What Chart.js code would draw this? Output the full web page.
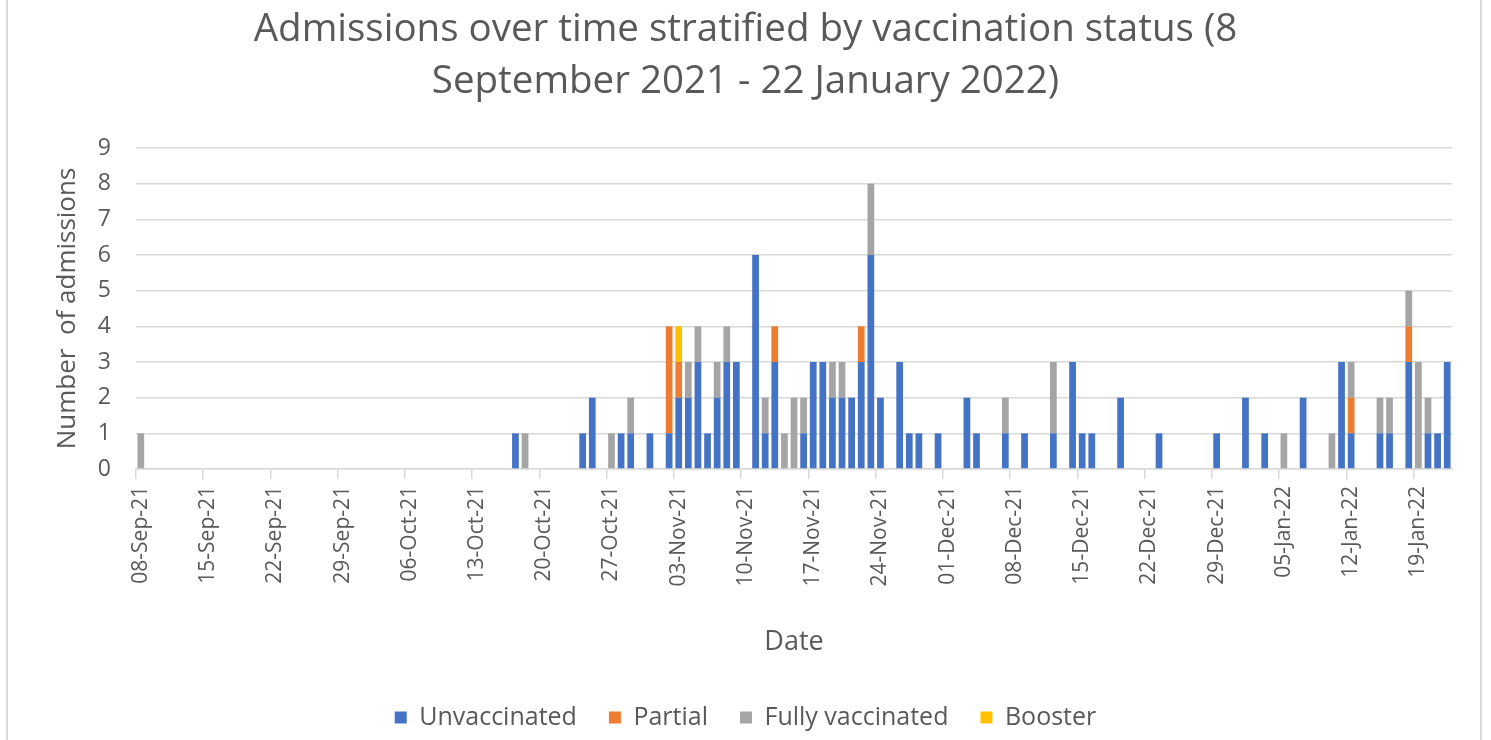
<!DOCTYPE html>
<html>
<head>
<meta charset="utf-8">
<title>Admissions over time stratified by vaccination status</title>
<script src="https://cdn.jsdelivr.net/npm/chart.js@4/dist/chart.umd.min.js"></script>
<style>
  html, body { margin: 0; padding: 0; background: #fff; }
  #wrap { position: relative; width: 1491px; height: 740px; }
  #frame {
    position: absolute; left: 6px; top: 0; width: 1472px; height: 740px;
    border-left: 2px solid #d9d9d9; border-right: 2px solid #d9d9d9;
    pointer-events: none;
  }
</style>
</head>
<body>
<div id="wrap">
  <canvas id="chart" width="1491" height="740"></canvas>
  <div id="frame"></div>
</div>
<script>
'use strict';

// one value per day, 08-Sep-21 .. 22-Jan-22 (rows of 7 days)
const unvaccinated = [
  0,0,0,0,0,0,0,  0,0,0,0,0,0,0,  0,0,0,0,0,0,0,  0,0,0,0,0,0,0,
  0,0,0,0,0,0,0,  0,0,0,0,1,0,0,  0,0,0,0,1,2,0,  0,1,1,0,1,0,1,
  2,2,3,1,2,3,3,  0,6,1,3,0,0,1,  3,3,2,2,2,3,6,  2,0,3,1,1,0,1,
  0,0,2,1,0,0,1,  0,1,0,0,1,0,3,  1,1,0,0,2,0,0,  0,1,0,0,0,0,0,
  1,0,0,2,0,1,0,  0,0,2,0,0,0,3,  1,0,0,1,1,0,3,  0,1,1,3
];
const partial = [
  0,0,0,0,0,0,0,  0,0,0,0,0,0,0,  0,0,0,0,0,0,0,  0,0,0,0,0,0,0,
  0,0,0,0,0,0,0,  0,0,0,0,0,0,0,  0,0,0,0,0,0,0,  0,0,0,0,0,0,3,
  1,0,0,0,0,0,0,  0,0,0,1,0,0,0,  0,0,0,0,0,1,0,  0,0,0,0,0,0,0,
  0,0,0,0,0,0,0,  0,0,0,0,0,0,0,  0,0,0,0,0,0,0,  0,0,0,0,0,0,0,
  0,0,0,0,0,0,0,  0,0,0,0,0,0,0,  1,0,0,0,0,0,1,  0,0,0,0
];
const fullyVaccinated = [
  1,0,0,0,0,0,0,  0,0,0,0,0,0,0,  0,0,0,0,0,0,0,  0,0,0,0,0,0,0,
  0,0,0,0,0,0,0,  0,0,0,0,0,1,0,  0,0,0,0,0,0,0,  1,0,1,0,0,0,0,
  0,1,1,0,1,1,0,  0,0,1,0,1,2,1,  0,0,1,1,0,0,2,  0,0,0,0,0,0,0,
  0,0,0,0,0,0,1,  0,0,0,0,2,0,0,  0,0,0,0,0,0,0,  0,0,0,0,0,0,0,
  0,0,0,0,0,0,0,  1,0,0,0,0,1,0,  1,0,0,1,1,0,1,  3,1,0,0
];
const booster = [
  0,0,0,0,0,0,0,  0,0,0,0,0,0,0,  0,0,0,0,0,0,0,  0,0,0,0,0,0,0,
  0,0,0,0,0,0,0,  0,0,0,0,0,0,0,  0,0,0,0,0,0,0,  0,0,0,0,0,0,0,
  1,0,0,0,0,0,0,  0,0,0,0,0,0,0,  0,0,0,0,0,0,0,  0,0,0,0,0,0,0,
  0,0,0,0,0,0,0,  0,0,0,0,0,0,0,  0,0,0,0,0,0,0,  0,0,0,0,0,0,0,
  0,0,0,0,0,0,0,  0,0,0,0,0,0,0,  0,0,0,0,0,0,0,  0,0,0,0
];

const MONTHS = ['Jan','Feb','Mar','Apr','May','Jun','Jul','Aug','Sep','Oct','Nov','Dec'];
const days = [];
for (let i = 0; i < unvaccinated.length; i++) {
  const d = new Date(Date.UTC(2021, 8, 8 + i));
  days.push(String(d.getUTCDate()).padStart(2, '0') + '-' + MONTHS[d.getUTCMonth()] + '-' + String(d.getUTCFullYear()).slice(2));
}

const FONT = '"Open Sans", "DejaVu Sans", sans-serif';
const GREY_TEXT = '#595959';
const GRID = '#d9d9d9';

new Chart(document.getElementById('chart'), {
  type: 'bar',
  data: {
    labels: days,
    datasets: [
      { label: 'Unvaccinated', data: unvaccinated, backgroundColor: '#4472c4' },
      { label: 'Partial', data: partial, backgroundColor: '#ed7d31' },
      { label: 'Fully vaccinated', data: fullyVaccinated, backgroundColor: '#a5a5a5' },
      { label: 'Booster', data: booster, backgroundColor: '#ffc000' }
    ]
  },
  options: {
    responsive: false,
    animation: false,
    layout: { padding: 0 },
    datasets: { bar: { categoryPercentage: 1, barPercentage: 0.7 } },
    plugins: {
      title: {
        display: true,
        text: ['Admissions over time stratified by vaccination status (8', 'September 2021 - 22 January 2022)'],
        color: GREY_TEXT,
        font: { family: FONT, size: 38.5, weight: 'normal', lineHeight: '52px' },
        padding: { top: 4, bottom: 40 }
      },
      legend: {
        position: 'bottom',
        labels: {
          color: GREY_TEXT,
          font: { family: FONT, size: 25 },
          boxWidth: 12, boxHeight: 12,
          padding: 32
        }
      },
      tooltip: { enabled: false }
    },
    scales: {
      x: {
        stacked: true,
        grid: {
          offset: true,
          drawOnChartArea: false,
          tickLength: 10,
          lineWidth: 1.5,
          color: (ctx) => (ctx.index % 7 === 0 ? GRID : 'rgba(0,0,0,0)')
        },
        border: { color: GRID, width: 1.5 },
        ticks: {
          autoSkip: false,
          minRotation: 90, maxRotation: 90,
          padding: 7,
          color: GREY_TEXT,
          font: { family: FONT, size: 21 },
          callback: (v, i) => (i % 7 === 0 ? days[i] : '')
        },
        title: {
          display: true,
          text: 'Date',
          color: GREY_TEXT,
          font: { family: FONT, size: 27 },
          padding: { top: 0, bottom: 14 }
        },
        afterFit: (scale) => { scale.height = 204; }
      },
      y: {
        stacked: true,
        min: 0, max: 9,
        grid: { color: GRID, lineWidth: 1.5, drawTicks: false },
        border: { display: false },
        ticks: {
          stepSize: 1,
          padding: 25,
          color: GREY_TEXT,
          font: { family: FONT, size: 23 }
        },
        title: {
          display: true,
          text: 'Number  of admissions',
          color: GREY_TEXT,
          font: { family: FONT, size: 26 },
          padding: { top: 52, bottom: 0 }
        },
        afterFit: (scale) => { scale.width = 136; }
      },
      // empty right-hand strip so the plot ends where the original does
      yRight: {
        position: 'right',
        display: true,
        grid: { display: false },
        border: { display: false },
        ticks: { display: false },
        afterFit: (scale) => { scale.width = 39; }
      }
    }
  }
});
</script>
</body>
</html>
